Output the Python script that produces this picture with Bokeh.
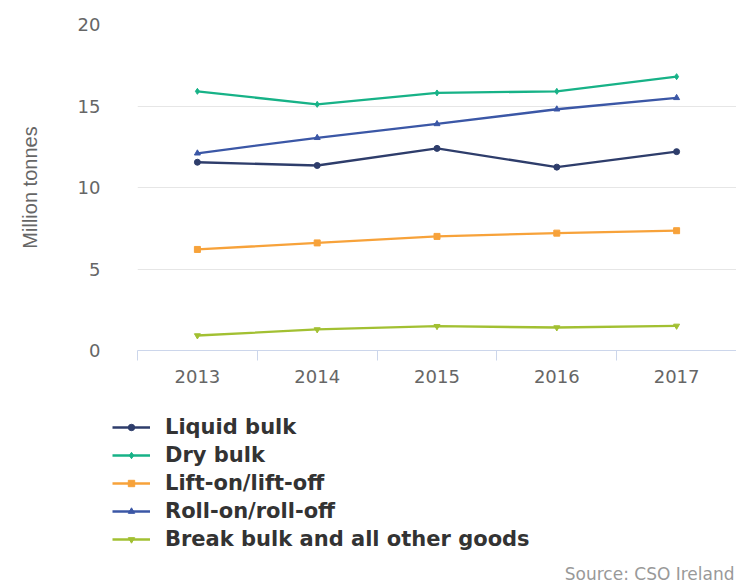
from bokeh.plotting import figure
from bokeh.models import FixedTicker, Legend, LegendItem, Label, Range1d
from bokeh.layouts import column, row
from bokeh.embed import file_html
from bokeh.resources import INLINE

years = ["2013", "2014", "2015", "2016", "2017"]
liquid_bulk = [11.55, 11.35, 12.4, 11.25, 12.2]
dry_bulk = [15.9, 15.1, 15.8, 15.9, 16.8]
lift_on = [6.2, 6.6, 7.0, 7.2, 7.35]
roll_on = [12.1, 13.05, 13.9, 14.8, 15.5]
break_bulk = [0.92, 1.29, 1.49, 1.41, 1.51]

series = [
    ("Liquid bulk", liquid_bulk, "#2e3d6b", "circle"),
    ("Dry bulk", dry_bulk, "#17b287", "diamond"),
    ("Lift-on/lift-off", lift_on, "#f7a23a", "square"),
    ("Roll-on/roll-off", roll_on, "#3b57a6", "triangle"),
    ("Break bulk and all other goods", break_bulk, "#a2c032", "inverted_triangle"),
]

xs = list(range(len(years)))

p = figure(width=736, height=395, output_backend="svg", toolbar_location=None,
           x_range=(-0.5, 4.5), y_range=(0, 20),
           min_border_left=137, min_border_right=0, min_border_top=24,
           min_border_bottom=45)
p.outline_line_color = None
p.background_fill_color = "white"
p.border_fill_color = "white"

# legend figure (below the chart)
lg = figure(width=736, height=188, output_backend="svg", toolbar_location=None,
            x_range=Range1d(0, 1), y_range=Range1d(0, 1),
            x_axis_type=None, y_axis_type=None, min_border=0,
            min_border_left=0, min_border_right=0, min_border_top=0, min_border_bottom=0)
lg.extra_x_ranges = {"hide": Range1d(1000, 1001)}
lg.outline_line_color = None
lg.xgrid.grid_line_color = None
lg.ygrid.grid_line_color = None
lg.border_fill_color = "white"

items = []
for name, vals, color, marker in series:
    p.line(xs, vals, line_color=color, line_width=2.3)
    p.scatter(xs, vals, marker=marker, size=6, fill_color=color, line_color=color)
    l1 = lg.line(xs, vals, line_color=color, line_width=2.3, x_range_name="hide")
    l2 = lg.scatter(xs, vals, marker=marker, size=6, fill_color=color, line_color=color,
                    x_range_name="hide")
    items.append(LegendItem(label=name, renderers=[l1, l2]))

# x axis
p.xaxis.ticker = FixedTicker(ticks=xs, minor_ticks=[-0.5, 0.5, 1.5, 2.5, 3.5, 4.5])
p.xaxis.major_label_overrides = {i: y for i, y in enumerate(years)}
p.xaxis.axis_line_color = "#ccd6eb"
p.xaxis.major_tick_line_color = None
p.xaxis.major_tick_out = 0
p.xaxis.minor_tick_line_color = "#ccd6eb"
p.xaxis.minor_tick_out = 10
p.xaxis.minor_tick_in = 0
p.xaxis.major_label_standoff = 9
p.xaxis.major_label_text_font = "DejaVu Sans"
p.xaxis.major_label_text_font_size = "18px"
p.xaxis.major_label_text_color = "#666666"
p.xgrid.grid_line_color = None

# y axis
p.yaxis.ticker = FixedTicker(ticks=[0, 5, 10, 15, 20])
p.yaxis.axis_line_color = None
p.yaxis.major_tick_line_color = None
p.yaxis.minor_tick_line_color = None
p.yaxis.major_label_standoff = 31
p.yaxis.major_label_text_font = "DejaVu Sans"
p.yaxis.major_label_text_font_size = "18px"
p.yaxis.major_label_text_color = "#666666"
p.yaxis.axis_label = "Million tonnes"
p.yaxis.axis_label_text_font = "Liberation Sans"
p.yaxis.axis_label_text_font_style = "normal"
p.yaxis.axis_label_text_font_size = "20px"
p.yaxis.axis_label_text_color = "#666666"
p.yaxis.axis_label_standoff = 34
p.ygrid.grid_line_color = "#e6e6e6"

legend = Legend(items=items, location=(112, 30), orientation="vertical",
                padding=0, margin=0, spacing=0, glyph_width=38, glyph_height=16,
                label_height=28, label_standoff=15,
                label_text_font="DejaVu Sans", label_text_font_style="bold",
                label_text_font_size="21px", label_text_color="#333333",
                border_line_color=None, background_fill_alpha=0)
lg.add_layout(legend, "center")

src = Label(x=1, y=0, x_offset=-2, y_offset=10,
            text="Source: CSO Ireland", text_align="right",
            text_baseline="middle", text_font="DejaVu Sans", text_font_size="17px",
            text_color="#999999")
lg.add_layout(src)

open("out.html", "w").write(file_html(column(p, row(lg)), INLINE))
